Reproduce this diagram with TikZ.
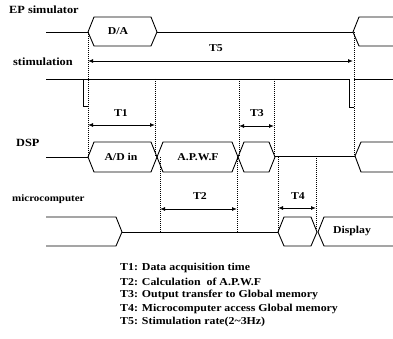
\documentclass[tikz,border=0pt]{standalone}
\usepackage{fontspec}
\setmainfont{Liberation Serif}[FakeStretch=1.12]
\usetikzlibrary{arrows.meta}
\newcommand{\hexa}[5]{% x1, x2, ytop, ymid, ybot
  \draw[sig] (#1,#4) -- (#1+6,#3) -- (#2-6,#3) -- (#2,#4) -- (#2-6,#5) -- (#1+6,#5) -- cycle;}
\tikzset{
  sig/.style={line width=0.9pt, line join=miter},
  guide/.style={densely dotted, line width=1pt},
  dim/.style={line width=0.9pt, {Latex[length=5pt,width=4pt]}-{Latex[length=5pt,width=4pt]}},
  lab/.style={font=\bfseries\fontsize{10.5}{12}\selectfont, inner sep=0pt},
  rowlab/.style={lab, anchor=west},
  leg/.style={font=\bfseries\fontsize{10.6}{12}\selectfont, inner sep=0pt, anchor=west}
}
\begin{document}
\begin{tikzpicture}[x=1pt,y=-1pt]
\useasboundingbox (0,0) rectangle (393,339);
% row labels
\node[rowlab, font=\bfseries\fontsize{11}{12}\selectfont] (lEP) at (9,10) {EP simulator};
\node[rowlab, font=\bfseries\fontsize{11}{12}\selectfont] (lST) at (13,62) {stimulation};
\node[rowlab, font=\bfseries\fontsize{11}{12}\selectfont] (lDSP) at (16,143) {DSP};
\node[rowlab, font=\bfseries\fontsize{9.8}{11}\selectfont] (lMC) at (12,199) {microcomputer};

% EP simulator row
\draw[sig] (46,32) -- (88,32);
\hexa{88}{157}{17}{32}{46}
\node[lab] (da) at (118,31) {D/A};
\draw[sig] (157,32) -- (353,32);
\draw[sig] (393,17) -- (359,17) -- (353,32) -- (359,46) -- (393,46);

% stimulation row
\draw[sig] (46,79) -- (349,79) -- (349,107) -- (354,107);
\draw[sig] (83,79) -- (83,106) -- (88,106);
\draw[sig] (354,79) -- (393,79);

% DSP row
\draw[sig] (46,157) -- (88,157);
\hexa{88}{157}{142}{157}{172}
\node[lab] (adin) at (121,157) {A/D in};
\hexa{157}{238}{142}{157}{172}
\node[lab] (apwf) at (198,157) {A.P.W.F};
\hexa{238}{275}{142}{157}{172}
\draw[sig] (275,156) -- (355,156);
\draw[sig] (393,142) -- (361,142) -- (355,156) -- (361,172) -- (393,172);

% microcomputer row
\draw[sig] (46,217) -- (116,217) -- (122,232) -- (116,246) -- (46,246);
\draw[sig] (122,232) -- (278,232);
\hexa{278}{317}{217}{232}{246}
\draw[sig] (393,217) -- (324,217) -- (318,232) -- (324,246) -- (393,246);
\node[lab] (disp) at (352,231) {Display};

% dotted guides
\draw[guide] (88,32) -- (88,157);
\draw[guide] (354,32) -- (354,156);
\draw[guide] (155,79) -- (155,157);
\draw[guide] (239,79) -- (239,157);
\draw[guide] (274,79) -- (274,157);
\draw[guide] (160,157) -- (160,232);
\draw[guide] (237,157) -- (237,232);
\draw[guide] (278,157) -- (278,232);
\draw[guide] (316,156) -- (316,232);

% dimension arrows
\coordinate (t5a) at (88,61);  \coordinate (t5b) at (353,61);
\draw[dim] (t5a) -- (t5b);
\node[lab] (T5) at (216,48) {T5};
\coordinate (t1a) at (88,125); \coordinate (t1b) at (155,125);
\draw[dim] (t1a) -- (t1b);
\node[lab] (T1) at (121,113) {T1};
\coordinate (t3a) at (239,126); \coordinate (t3b) at (274,126);
\draw[dim] (t3a) -- (t3b);
\node[lab] (T3) at (257,113) {T3};
\coordinate (t2a) at (160,209); \coordinate (t2b) at (237,209);
\draw[dim] (t2a) -- (t2b);
\node[lab] (T2) at (200,196) {T2};
\coordinate (t4a) at (278,208); \coordinate (t4b) at (316,208);
\draw[dim] (t4a) -- (t4b);
\node[lab] (T4) at (298,196) {T4};

% legend
\node[leg] (g1) at (120,268) {T1: Data acquisition time};
\node[leg] (g2) at (120,282) {T2: Calculation\ \ of A.P.W.F};
\node[leg] (g3) at (120,295) {T3: Output transfer to Global memory};
\node[leg] (g4) at (120,309) {T4: Microcomputer access Global memory};
\node[leg] (g5) at (120,322) {T5: Stimulation rate(2\textasciitilde 3Hz)};
\end{tikzpicture}
\end{document}
